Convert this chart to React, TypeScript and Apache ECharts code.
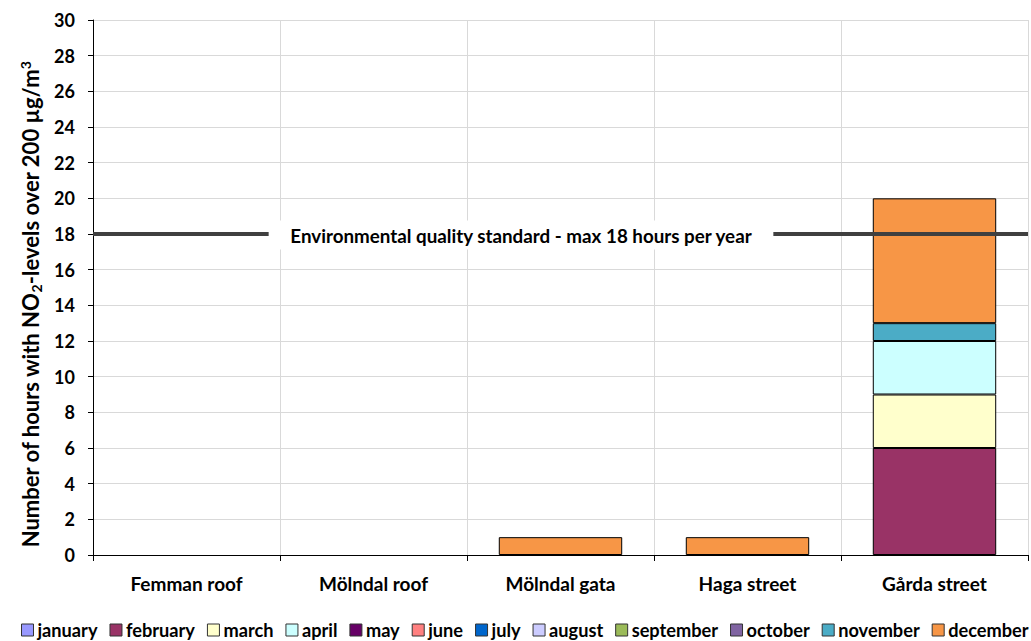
import React, { useEffect, useRef } from "react";
import * as echarts from "echarts";

// Monitoring sites along the x axis
const sites = ["Femman roof", "Mölndal roof", "Mölndal gata", "Haga street", "Gårda street"];

// Hours per month above 200 µg/m³ at each site
const months = [
  "january", "february", "march", "april", "may", "june",
  "july", "august", "september", "october", "november", "december",
];
const january = [0, 0, 0, 0, 0];
const february = [0, 0, 0, 0, 6];
const march = [0, 0, 0, 0, 3];
const april = [0, 0, 0, 0, 3];
const may = [0, 0, 0, 0, 0];
const june = [0, 0, 0, 0, 0];
const july = [0, 0, 0, 0, 0];
const august = [0, 0, 0, 0, 0];
const september = [0, 0, 0, 0, 0];
const october = [0, 0, 0, 0, 0];
const november = [0, 0, 0, 0, 1];
const december = [0, 0, 1, 1, 7];
const monthValues = [
  january, february, march, april, may, june,
  july, august, september, october, november, december,
];
const monthColors = [
  "#9999FF", "#993366", "#FFFFCC", "#CCFFFF", "#660066", "#FF8080",
  "#0066CC", "#CCCCFF", "#9BBB59", "#8064A2", "#4BACC6", "#F79646",
];

// Y axis ticks
const yMin = 0;
const yMax = 30;
const yStep = 2;

// Environmental quality standard
const standardLimit = 18;
const standardText = "Environmental quality standard - max 18 hours per year";

const FONT = "Lato";

export default function App() {
  const ref = useRef<HTMLDivElement>(null);

  useEffect(() => {
    if (!ref.current) return;
    const chart = echarts.init(ref.current, null, { renderer: "svg" });

    const series: any[] = months.map((m, i) => ({
      name: m,
      type: "bar",
      stack: "hours",
      barWidth: "66%",
      data: monthValues[i].map((v) => (v === 0 ? null : v)),
      itemStyle: { color: monthColors[i], borderColor: "#000", borderWidth: 1 },
    }));

    // The standard line
    series.push({
      name: "standard",
      type: "line",
      data: [],
      markLine: {
        silent: true,
        symbol: "none",
        lineStyle: { color: "#404040", width: 4, type: "solid" },
        label: { show: false },
        data: [{ yAxis: standardLimit }],
      },
    });

    chart.setOption({
      animation: false,
      grid: { left: 93, right: 3, top: 20, bottom: 86, containLabel: false },
      legend: {
        data: months,
        bottom: 2,
        left: 21,
        width: 1010,
        padding: 0,
        itemWidth: 12,
        itemHeight: 12,
        itemGap: 12,
        icon: "rect",
        itemStyle: { borderColor: "#333", borderWidth: 1 },
        textStyle: { fontFamily: FONT, fontWeight: "bold", fontSize: 18.2, color: "#000", padding: [0, 0, 0, -1] },
      },
      xAxis: {
        type: "category",
        data: sites,
        axisLine: { lineStyle: { color: "#000", width: 1 } },
        axisTick: { show: true, length: 6, lineStyle: { color: "#000" } },
        splitLine: { show: true, lineStyle: { color: "#d9d9d9" } },
        axisLabel: { fontFamily: FONT, fontWeight: "bold", fontSize: 19, color: "#000", margin: 19 },
      },
      yAxis: {
        type: "value",
        min: yMin,
        max: yMax,
        interval: yStep,
        axisLine: { show: true, lineStyle: { color: "#000" } },
        axisTick: { show: true, length: 5, lineStyle: { color: "#000" } },
        splitLine: { show: true, lineStyle: { color: "#d9d9d9" } },
        axisLabel: { fontFamily: FONT, fontWeight: "bold", fontSize: 18, color: "#000", margin: 18 },
        name: "Number of hours with NO{sub|2}-levels over 200 µg/m{sup|3}",
        nameLocation: "middle",
        nameGap: 47,
        nameTextStyle: {
          fontFamily: FONT,
          fontWeight: "bold",
          fontSize: 22,
          color: "#000",
          padding: [0, 34, 0, 0],
          rich: {
            sub: { fontFamily: FONT, fontWeight: "bold", fontSize: 14, color: "#000", padding: [12, 0, 0, 0] },
            sup: { fontFamily: FONT, fontWeight: "bold", fontSize: 14, color: "#000", padding: [0, 0, 10, 0] },
          },
        },
      },
      series,
    });

    // Label over the standard line, on a white box that interrupts it
    const y = chart.convertToPixel({ yAxisIndex: 0 }, standardLimit) as number;
    chart.setOption({
      graphic: [
        {
          type: "text",
          x: 521,
          y: y + 1,
          z: 100,
          style: {
            text: standardText,
            fontFamily: FONT,
            fontWeight: "bold",
            fontSize: 18.8,
            fill: "#000",
            align: "center",
            verticalAlign: "middle",
            backgroundColor: "#fff",
            padding: [5, 21],
          },
        },
      ],
    });

    return () => chart.dispose();
  }, []);

  return (
    <div
      ref={ref}
      style={{ position: "fixed", left: 0, top: 0, width: 1031, height: 641, background: "#fff" }}
    />
  );
}
